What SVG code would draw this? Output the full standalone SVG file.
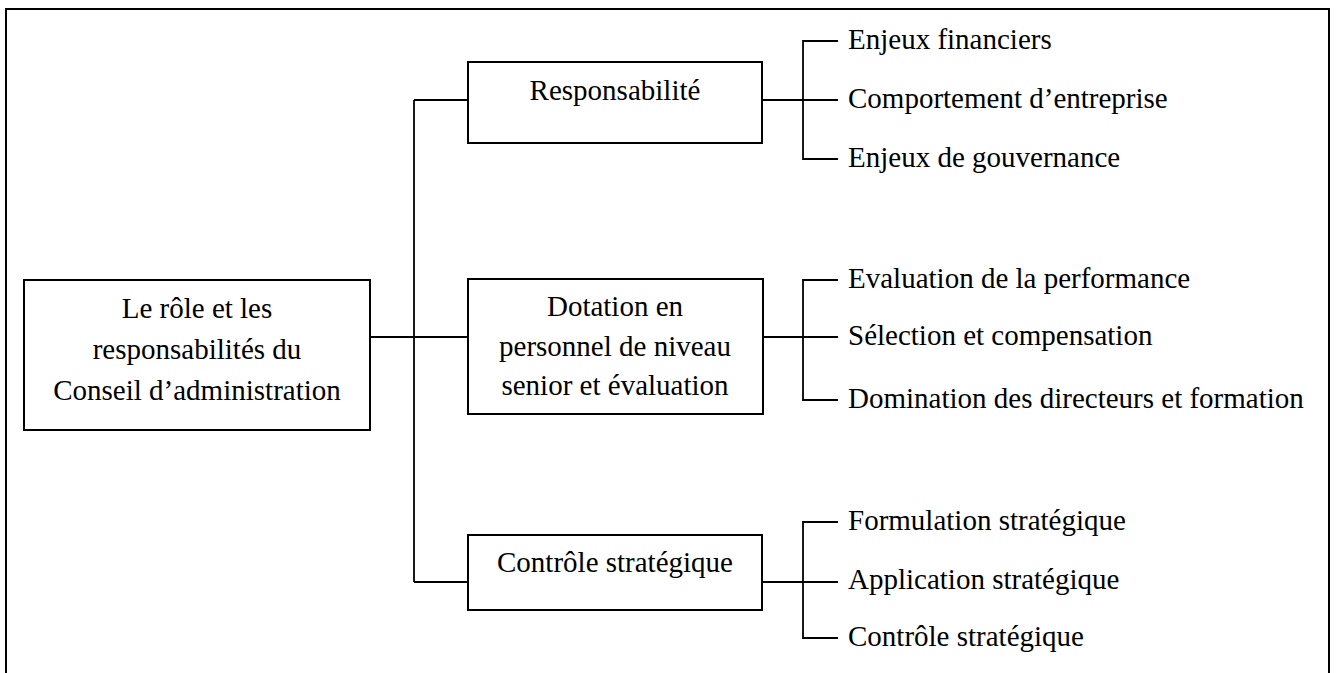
<svg xmlns="http://www.w3.org/2000/svg" width="1336" height="673" viewBox="0 0 1336 673">
  <style>
    .box { fill: #ffffff; stroke: #000000; stroke-width: 2; }
    .wire { fill: none; stroke: #000000; stroke-width: 1.8; }
    .frame { fill: none; stroke: #000000; stroke-width: 2; }
    text { font-family: "Liberation Serif", "Times New Roman", serif; font-size: 29px; fill: #000000; }
    .c { text-anchor: middle; }
  </style>
  <rect x="0" y="0" width="1336" height="673" fill="#ffffff"/>
  <!-- outer frame, open at the bottom -->
  <path class="frame" d="M6,673 V9 H1329 V673"/>

  <g id="connectors">
    <!-- root to the three branches -->
    <path class="wire" d="M370,337 H468"/>
    <path class="wire" d="M414,100 V582"/>
    <path class="wire" d="M414,100 H468"/>
    <path class="wire" d="M414,582 H468"/>
    <!-- Responsabilité to its items -->
    <path class="wire" d="M762,100 H838"/>
    <path class="wire" d="M838,41 H803 V159 H838"/>
    <!-- Dotation to its items -->
    <path class="wire" d="M763,337 H838"/>
    <path class="wire" d="M838,280 H803 V400 H838"/>
    <!-- Contrôle to its items -->
    <path class="wire" d="M762,582 H838"/>
    <path class="wire" d="M838,522 H803 V638 H838"/>
  </g>

  <g id="root">
    <rect class="box" x="24" y="280" width="346" height="150"/>
    <text class="c" x="197" y="318">Le rôle et les</text>
    <text class="c" x="197" y="359">responsabilités du</text>
    <text class="c" x="197" y="400">Conseil d’administration</text>
  </g>

  <g id="responsabilite">
    <rect class="box" x="468" y="62" width="294" height="81"/>
    <text class="c" x="615" y="100">Responsabilité</text>
  </g>

  <g id="dotation">
    <rect class="box" x="468" y="279" width="295" height="135"/>
    <text class="c" x="615" y="316">Dotation en</text>
    <text class="c" x="615" y="356">personnel de niveau</text>
    <text class="c" x="615" y="395">senior et évaluation</text>
  </g>

  <g id="controle">
    <rect class="box" x="468" y="535" width="294" height="75"/>
    <text class="c" x="615" y="572">Contrôle stratégique</text>
  </g>

  <g id="items-responsabilite">
    <text x="848" y="49">Enjeux financiers</text>
    <text x="848" y="108">Comportement d’entreprise</text>
    <text x="848" y="167">Enjeux de gouvernance</text>
  </g>

  <g id="items-dotation">
    <text x="848" y="288">Evaluation de la performance</text>
    <text x="848" y="345">Sélection et compensation</text>
    <text x="848" y="408">Domination des directeurs et formation</text>
  </g>

  <g id="items-controle">
    <text x="848" y="530">Formulation stratégique</text>
    <text x="848" y="589">Application stratégique</text>
    <text x="848" y="646">Contrôle stratégique</text>
  </g>
</svg>
